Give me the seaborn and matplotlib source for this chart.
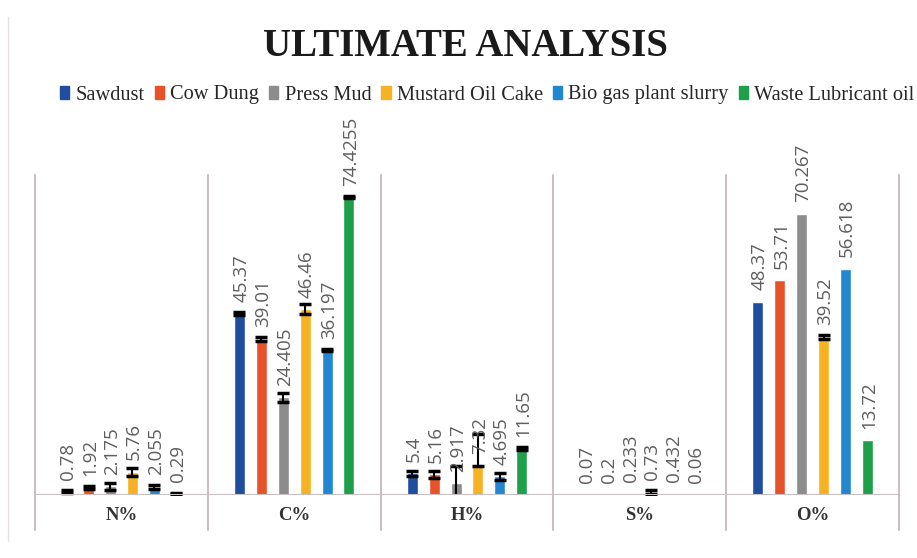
import pandas as pd
import matplotlib.pyplot as plt
import seaborn as sns

# Ultimate analysis data
elements = ['N%', 'C%', 'H%', 'S%', 'O%']
materials = ['Sawdust', 'Cow Dung', 'Press Mud', 'Mustard Oil Cake',
             'Bio gas plant slurry', 'Waste Lubricant oil']
colors = ['#1F4E9E', '#E8522B', '#8C8C8C', '#F6B222', '#2387D0', '#1EA04B']

sawdust = [0.78, 45.37, 5.4, 0.07, 48.37]
cow_dung = [1.92, 39.01, 5.16, 0.2, 53.71]
press_mud = [2.175, 24.405, 2.917, 0.233, 70.267]
mustard = [5.76, 46.46, 7.32, 0.73, 39.52]
biogas = [2.055, 36.197, 4.695, 0.432, 56.618]
waste_oil = [0.29, 74.4255, 11.65, 0.06, 13.72]

# error bar lengths, upper and lower
sawdust_err = [0.4, 0.4, 0.7, 0.0, 0.0]
cow_dung_err = [0.4, 0.4, 0.9, 0.0, 0.0]
press_mud_err = [0.9, 1.2, 4.4, 0.0, 0.0]
mustard_err = [1.1, 1.3, 8.0, 0.4, 0.4]
mustard_err_low = [1.1, 1.3, 0.0, 0.4, 0.4]
biogas_err = [0.5, 0.3, 0.9, 0.0, 0.0]
waste_oil_err = [0.1, 0.3, 0.4, 0.0, 0.0]

values = [sawdust, cow_dung, press_mud, mustard, biogas, waste_oil]
errors_hi = [sawdust_err, cow_dung_err, press_mud_err, mustard_err, biogas_err, waste_oil_err]
errors_lo = [sawdust_err, cow_dung_err, press_mud_err, mustard_err_low, biogas_err, waste_oil_err]

rows = []
for m, vals, hi, lo in zip(materials, values, errors_hi, errors_lo):
    for e, v, h, l in zip(elements, vals, hi, lo):
        rows.append({'element': e, 'material': m, 'value': v, 'hi': h, 'lo': l})
df = pd.DataFrame(rows)

sns.set_style('white')
plt.rcParams['font.family'] = ['Liberation Serif', 'DejaVu Serif']

fig = plt.figure(figsize=(9.17, 5.58), dpi=100)
ax = fig.add_axes([35 / 917, 1 - 495 / 558, 864 / 917, 320 / 558])

sns.barplot(data=df, x='element', y='value', hue='material', order=elements,
            hue_order=materials, palette=colors, saturation=1, width=0.76, gap=0.5,
            errorbar=None, legend=False, ax=ax)

# error bars and value labels
for container, m in zip(ax.containers, materials):
    sub = df[df['material'] == m].set_index('element').loc[elements]
    xs = [b.get_x() + b.get_width() / 2 for b in container]
    for x, (_, r) in zip(xs, sub.iterrows()):
        if r['hi'] > 0 or r['lo'] > 0:
            ax.errorbar([x], [r['value']], yerr=[[r['lo']], [r['hi']]], fmt='none',
                        ecolor='black', elinewidth=1.5, capsize=4, capthick=2.5, zorder=3)
        ax.text(x + 0.01, r['value'] + 2.9, f"{r['value']:g}", rotation=90,
                ha='center', va='bottom', fontsize=13.5, color='#5e5e5e',
                family=['Open Sans', 'DejaVu Sans'])

ax.set_xlim(-0.5, 4.5)
ax.set_ylim(0, 80)
ax.set_xlabel('')
ax.set_ylabel('')
ax.set_yticks([])
ax.set_xticks([])
for s in ax.spines.values():
    s.set_visible(False)
ax.axhline(0, color='#c8c0c0', lw=1.5, zorder=4)

# category separators and labels
for i in range(len(elements) + 1):
    ax.axvline(i - 0.5, ymin=-0.11, ymax=1.0, color='#c8c0c0', lw=1.5, clip_on=False)
for i, e in enumerate(elements):
    ax.text(i, -5, e, ha='center', va='center', fontsize=13.5, fontweight='bold',
            color='#333333')

fig.text(465 / 917, 1 - 47 / 558, 'ULTIMATE ANALYSIS', ha='center', va='center',
         fontsize=28, fontweight='bold', color='#1a1a1a')

handles = [plt.Rectangle((0, 0), 1, 1, color=c) for c in colors]
fig.legend(handles, materials, loc='center left', bbox_to_anchor=(52 / 917, 1 - 95 / 558),
           ncol=6, frameon=False, fontsize=14.7, handlelength=0.45, handleheight=0.6,
           handletextpad=0.3, columnspacing=0.5, borderaxespad=0)

fig.add_artist(plt.Line2D([8 / 917, 8 / 917], [0.03, 0.97], color='#e6e0e0', lw=1))

fig.savefig('out.png', dpi=100)
